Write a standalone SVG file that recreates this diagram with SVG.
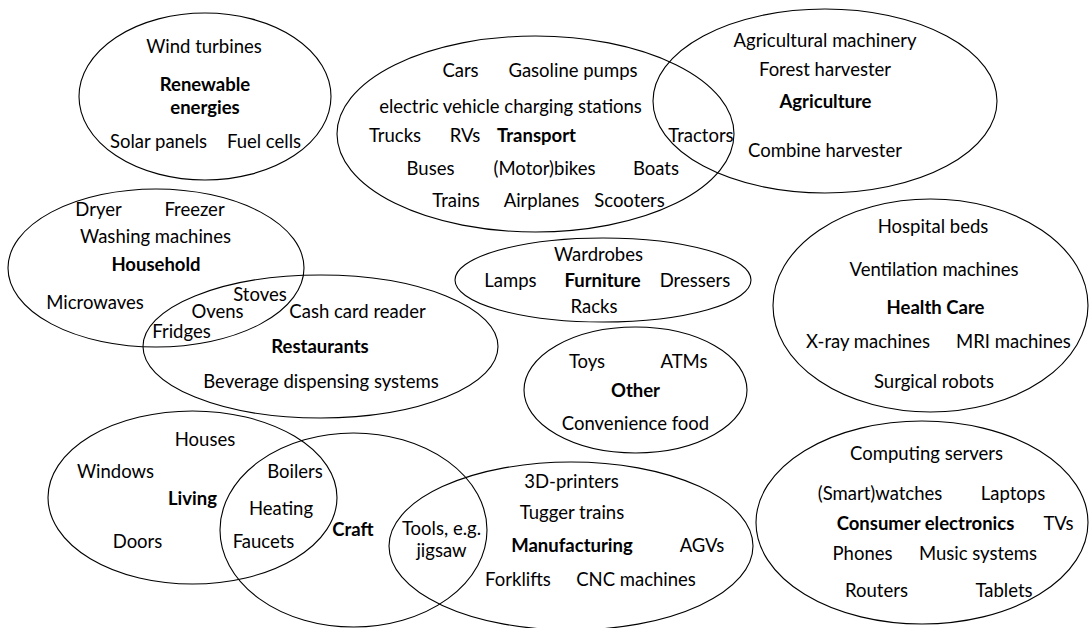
<svg xmlns="http://www.w3.org/2000/svg" width="1090" height="628" viewBox="0 0 1090 628">
  <style>
    .set { fill: none; stroke: #000; stroke-width: 1.1; }
    text { font-family: Lato, "Open Sans", "Liberation Sans", sans-serif; font-size: 18.5px; fill: #000; text-anchor: middle; }
    .title { font-weight: bold; }
  </style>
  <rect width="1090" height="628" fill="#fff"/>

  <g id="renewable">
    <ellipse class="set" cx="205" cy="96.5" rx="126" ry="83.5"/>
    <text x="204" y="53">Wind turbines</text>
    <text class="title" x="205" y="91">Renewable</text>
    <text class="title" x="205" y="114">energies</text>
    <text x="158.5" y="148">Solar panels</text>
    <text x="264" y="148">Fuel cells</text>
  </g>

  <g id="transport">
    <ellipse class="set" cx="535.5" cy="134" rx="198.5" ry="98"/>
    <text x="460.5" y="77">Cars</text>
    <text x="573" y="77">Gasoline pumps</text>
    <text x="510.5" y="113">electric vehicle charging stations</text>
    <text x="395" y="142">Trucks</text>
    <text x="465" y="142">RVs</text>
    <text class="title" x="536.5" y="142">Transport</text>
    <text x="430.5" y="175">Buses</text>
    <text x="544.5" y="175">(Motor)bikes</text>
    <text x="656" y="175">Boats</text>
    <text x="456" y="207">Trains</text>
    <text x="541.5" y="207">Airplanes</text>
    <text x="629.5" y="207">Scooters</text>
  </g>

  <g id="agriculture">
    <ellipse class="set" cx="825" cy="101" rx="172" ry="92"/>
    <text x="825" y="47">Agricultural machinery</text>
    <text x="825" y="76">Forest harvester</text>
    <text class="title" x="825.5" y="108">Agriculture</text>
    <text x="701" y="142">Tractors</text>
    <text x="825" y="157">Combine harvester</text>
  </g>

  <g id="household">
    <ellipse class="set" cx="156" cy="268" rx="148" ry="79"/>
    <text x="98.5" y="216">Dryer</text>
    <text x="194.5" y="216">Freezer</text>
    <text x="155.5" y="243">Washing machines</text>
    <text class="title" x="156" y="271">Household</text>
    <text x="95" y="309">Microwaves</text>
    <text x="260" y="301">Stoves</text>
    <text x="217.5" y="318">Ovens</text>
    <text x="181.5" y="338">Fridges</text>
  </g>

  <g id="restaurants">
    <ellipse class="set" cx="320.5" cy="346.5" rx="177.5" ry="71.5"/>
    <text x="357.5" y="318">Cash card reader</text>
    <text class="title" x="320" y="353">Restaurants</text>
    <text x="321" y="388">Beverage dispensing systems</text>
  </g>

  <g id="furniture">
    <ellipse class="set" cx="603" cy="280" rx="148" ry="42"/>
    <text x="598.5" y="261">Wardrobes</text>
    <text x="510.5" y="287">Lamps</text>
    <text class="title" x="602.5" y="287">Furniture</text>
    <text x="695" y="287">Dressers</text>
    <text x="594" y="313">Racks</text>
  </g>

  <g id="other">
    <ellipse class="set" cx="635.5" cy="390" rx="111.5" ry="63"/>
    <text x="587" y="368">Toys</text>
    <text x="684" y="368">ATMs</text>
    <text class="title" x="635.5" y="397">Other</text>
    <text x="635.5" y="430">Convenience food</text>
  </g>

  <g id="health-care">
    <ellipse class="set" cx="930.5" cy="305.5" rx="157.5" ry="106.5"/>
    <text x="933" y="233">Hospital beds</text>
    <text x="934" y="276">Ventilation machines</text>
    <text class="title" x="935.5" y="314">Health Care</text>
    <text x="868" y="348">X-ray machines</text>
    <text x="1013.5" y="348">MRI machines</text>
    <text x="934" y="388">Surgical robots</text>
  </g>

  <g id="living">
    <ellipse class="set" cx="192.5" cy="497.5" rx="144.5" ry="86.5"/>
    <text x="205" y="446">Houses</text>
    <text x="115.5" y="478">Windows</text>
    <text class="title" x="192.5" y="505">Living</text>
    <text x="137.5" y="548">Doors</text>
  </g>

  <g id="craft">
    <ellipse class="set" cx="353.5" cy="530" rx="133.5" ry="97"/>
    <text x="295" y="478">Boilers</text>
    <text x="281" y="515">Heating</text>
    <text x="263.5" y="548">Faucets</text>
    <text class="title" x="353" y="536">Craft</text>
  </g>

  <g id="manufacturing">
    <ellipse class="set" cx="571" cy="546" rx="182" ry="84"/>
    <text x="441.5" y="535">Tools, e.g.</text>
    <text x="441.5" y="557">jigsaw</text>
    <text x="571.5" y="488">3D-printers</text>
    <text x="572" y="519">Tugger trains</text>
    <text class="title" x="572" y="552">Manufacturing</text>
    <text x="702" y="552">AGVs</text>
    <text x="518" y="586">Forklifts</text>
    <text x="636" y="586">CNC machines</text>
  </g>

  <g id="consumer-electronics">
    <ellipse class="set" cx="922" cy="522.5" rx="166" ry="101.5"/>
    <text x="926.5" y="460">Computing servers</text>
    <text x="880" y="500">(Smart)watches</text>
    <text x="1013" y="500">Laptops</text>
    <text class="title" x="925.5" y="530">Consumer electronics</text>
    <text x="1058.5" y="530">TVs</text>
    <text x="862.5" y="560">Phones</text>
    <text x="978" y="560">Music systems</text>
    <text x="876.5" y="597">Routers</text>
    <text x="1004" y="597">Tablets</text>
  </g>
</svg>
